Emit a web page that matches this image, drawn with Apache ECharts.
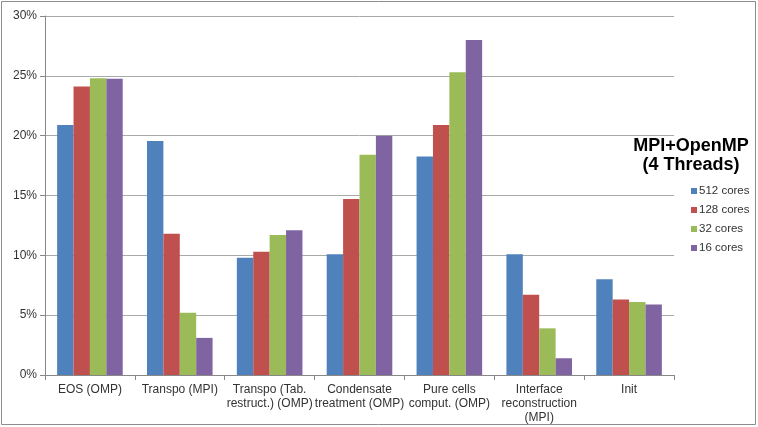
<!DOCTYPE html>
<html><head><meta charset="utf-8">
<script src="https://cdn.jsdelivr.net/npm/echarts@6/dist/echarts.min.js"></script>
<style>html,body{margin:0;padding:0;background:#fff}#c{width:758px;height:427px}</style>
</head><body><div id="c"></div>
<script>
const categories = ["EOS (OMP)", "Transpo (MPI)", "Transpo (Tab.\nrestruct.) (OMP)", "Condensate\ntreatment (OMP)", "Pure cells\ncomput. (OMP)", "Interface\nreconstruction\n(MPI)", "Init"];
const seriesNames = ["512 cores", "128 cores", "32 cores", "16 cores"];
const cores512 = [20.9, 19.55, 9.8, 10.1, 18.25, 10.1, 8.0];
const cores128 = [24.1, 11.8, 10.3, 14.7, 20.9, 6.7, 6.3];
const cores32 = [24.8, 5.2, 11.7, 18.4, 25.3, 3.9, 6.1];
const cores16 = [24.75, 3.1, 12.1, 20.0, 28.0, 1.4, 5.9];
const colors = ["#4f81bd", "#c0504d", "#9bbb59", "#8064a2"];
const legendTitle = "MPI+OpenMP\n(4 Threads)";

const data = [cores512, cores128, cores32, cores16];
const chart = echarts.init(document.getElementById('c'));
chart.setOption({
  animation: false,
  textStyle: {fontFamily: 'Liberation Sans, Arial, sans-serif'},
  legend: {
    orient: 'vertical', left: 686, top: 180, itemWidth: 6, itemHeight: 6, itemGap: 7,
    icon: 'rect', data: seriesNames,
    textStyle: {fontSize: 11.5, color: '#333', padding: [0, 0, 0, -3]}
  },
  grid: {left: 45, right: 84, top: 16, bottom: 52},
  xAxis: {
    type: 'category', data: categories,
    axisLine: {lineStyle: {color: '#888'}},
    axisTick: {show: true, length: 5, lineStyle: {color: '#888'}},
    axisLabel: {color: '#333', fontSize: 12, interval: 0, margin: 8, lineHeight: 14}
  },
  yAxis: {
    type: 'value', min: 0, max: 30, interval: 5,
    axisLine: {show: true, lineStyle: {color: '#888'}},
    axisTick: {show: true, length: 5, lineStyle: {color: '#888'}},
    axisLabel: {formatter: '{value}%', color: '#333', fontSize: 12, margin: 8},
    splitLine: {lineStyle: {color: '#aaa'}}
  },
  series: seriesNames.map((n, i) => ({
    name: n, type: 'bar', data: data[i], barGap: '0%', barCategoryGap: '27%',
    itemStyle: {color: colors[i]}
  })),
  graphic: [
    {type: 'rect', shape: {x: 1.5, y: 1.5, width: 754, height: 423}, style: {fill: 'none', stroke: '#8c8c8c', lineWidth: 1}, z: -1},
    {type: 'text', x: 691, y: 137, style: {text: legendTitle, font: 'bold 18px Liberation Sans, Arial, sans-serif', fill: '#000', align: 'center', verticalAlign: 'top', lineHeight: 19}, z: 100}
  ]
});
</script></body></html>
